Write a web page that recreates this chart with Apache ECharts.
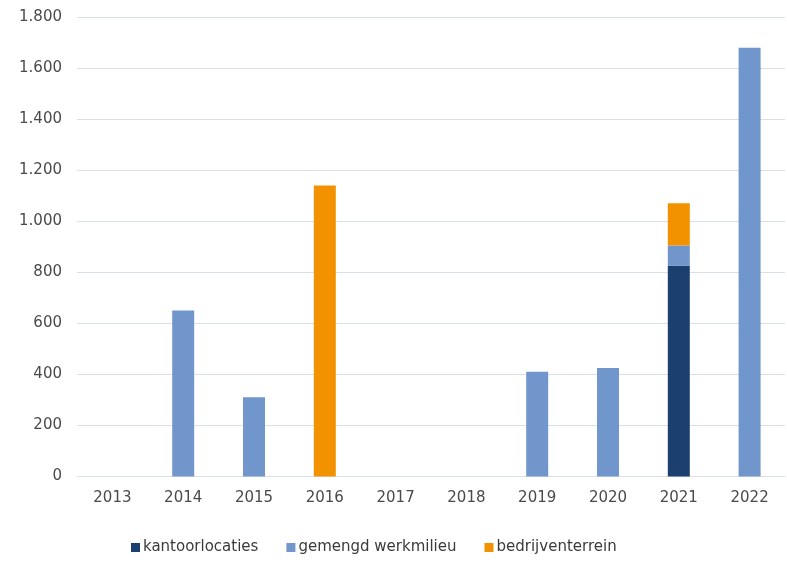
<!DOCTYPE html>
<html>
<head>
<meta charset="utf-8">
<script src="https://cdn.jsdelivr.net/npm/echarts@6/dist/echarts.min.js"></script>
<style>
html,body{margin:0;padding:0;background:#fff;}
#c{width:787px;height:562px;}
</style>
</head>
<body>
<div id="c"></div>
<script>
const categories = ['2013','2014','2015','2016','2017','2018','2019','2020','2021','2022'];
const kantoorlocaties = [0, 0, 0, 0, 0, 0, 0, 0, 825, 0];
const gemengdWerkmilieu = [0, 650, 310, 0, 0, 0, 410, 425, 80, 1680];
const bedrijventerrein = [0, 0, 0, 1140, 0, 0, 0, 0, 165, 0];
const seriesNames = ['kantoorlocaties', 'gemengd werkmilieu', 'bedrijventerrein'];
const yTicks = { min: 0, max: 1800, interval: 200 };

const colors = ['#1b3f6e', '#7096cc', '#f39200'];
const font = 'DejaVu Sans';

function fmt(v) {
  return String(v).replace(/\B(?=(\d{3})+(?!\d))/g, '.');
}

const chart = echarts.init(document.getElementById('c'), null, { renderer: 'canvas' });
const dataSets = [kantoorlocaties, gemengdWerkmilieu, bedrijventerrein];
chart.setOption({
  animation: false,
  backgroundColor: '#ffffff',
  color: colors,
  grid: { left: 77, right: 2, top: 17, bottom: 85.5, containLabel: false },
  legend: {
    bottom: 2,
    left: 126,
    itemWidth: 9,
    itemHeight: 9,
    itemGap: 28,
    icon: 'rect',
    textStyle: { fontFamily: font, fontSize: 15, color: '#3a3a3a', padding: [0, 0, 0, -2] },
    data: seriesNames
  },
  xAxis: {
    type: 'category',
    data: categories,
    axisLine: { show: true, lineStyle: { color: '#d9e0e8', width: 1 } },
    axisTick: { show: false },
    axisLabel: { fontFamily: font, fontSize: 15, color: '#4a4a4a', margin: 14 }
  },
  yAxis: {
    type: 'value',
    min: yTicks.min,
    max: yTicks.max,
    interval: yTicks.interval,
    axisLine: { show: false },
    axisTick: { show: false },
    splitLine: { lineStyle: { color: '#d9e0e8', width: 1 } },
    axisLabel: { fontFamily: font, fontSize: 15, color: '#4a4a4a', margin: 15, formatter: fmt }
  },
  series: seriesNames.map((n, i) => ({
    name: n,
    type: 'bar',
    stack: 'total',
    barWidth: 22,
    data: dataSets[i].map(v => v === 0 ? null : v)
  }))
});
</script>
</body>
</html>
